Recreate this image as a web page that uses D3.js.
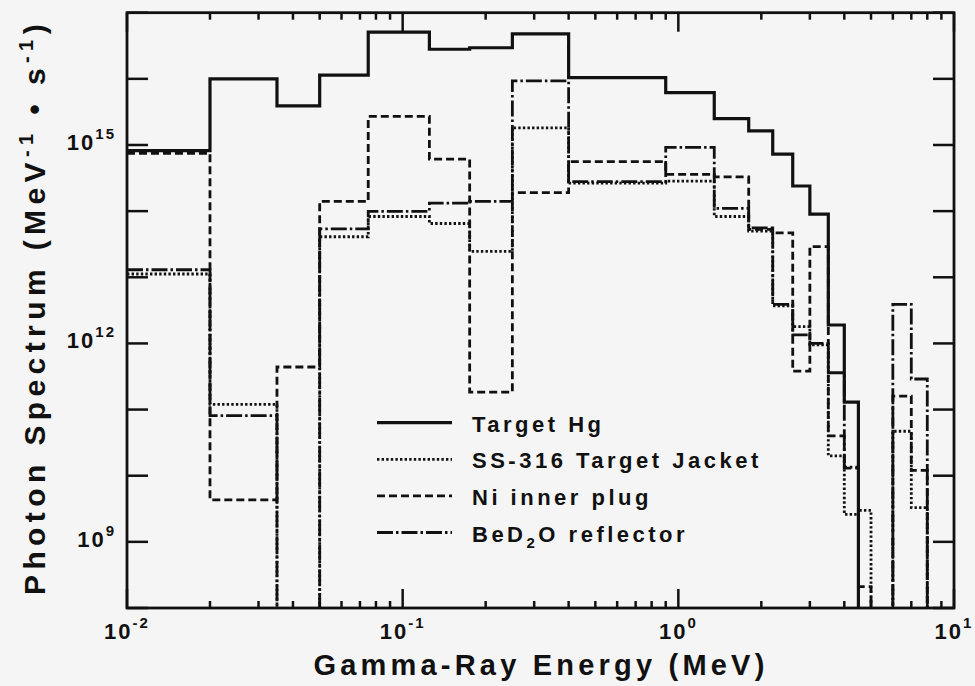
<!DOCTYPE html>
<html>
<head>
<meta charset="utf-8">
<script src="https://cdn.jsdelivr.net/npm/d3@7"></script>
<style>
body { margin: 0; background: #f5f5f5; }
text { font-family: "Liberation Sans", Arial, sans-serif; font-weight: bold; fill: #111; }
</style>
</head>
<body>
<div id="chart"></div>
<script>
// group boundaries (MeV)
var edges = [0.01, 0.02, 0.035, 0.05, 0.075, 0.125, 0.175, 0.25, 0.4, 0.9, 1.35, 1.8,
             2.2, 2.6, 3.0, 3.5, 4.0, 4.5, 5.0, 6.0, 7.0, 8.0, 10.0];

// photon spectrum per group, 0 = off scale
var targetHg = [8.2e14, 1.0e16, 3.9e15, 1.14e16, 5.1e16, 2.8e16, 2.95e16, 4.8e16, 1.04e16, 6.2e15, 2.5e15,
                1.64e15, 7.3e14, 2.4e14, 9.0e13, 1.9e12, 1.3e11, 0, 0, 0, 0, 0];
var ssJacket = [1.12e13, 1.2e11, 0, 4.1e13, 8.3e13, 6.5e13, 2.46e13, 1.82e15, 2.65e14, 2.85e14, 8.3e13,
                5.0e13, 3.7e12, 1.8e12, 9.5e11, 2.0e10, 2.6e9, 3.0e9, 0, 4.7e10, 3.3e9, 0];
var niPlug   = [7.5e14, 4.3e9, 4.4e11, 1.4e14, 2.7e15, 6.1e14, 1.84e11, 1.9e14, 5.6e14, 3.6e14, 3.3e14,
                5.3e13, 4.7e13, 3.8e11, 2.9e13, 4.0e10, 1.3e10, 2.1e8, 0, 1.6e11, 1.2e10, 0];
var bed2o    = [1.3e13, 8.1e10, 0, 5.4e13, 9.9e13, 1.32e14, 1.4e14, 9.3e15, 2.8e14, 9.2e14, 1.1e14,
                5.6e13, 3.9e12, 1.35e12, 1.0e12, 3.6e11, 1.35e10, 0, 0, 3.9e12, 2.9e11, 0];

var xMajor = [0.01, 0.1, 1, 10];
var xExp = ["-2", "-1", "0", "1"];
var yTicks = [1e8, 1e9, 1e10, 1e11, 1e12, 1e13, 1e14, 1e15, 1e16, 1e17];
var yLabels = [1e9, 1e12, 1e15];
var yExp = ["9", "12", "15"];

var legendNames = ["Target Hg", "SS-316 Target Jacket", "Ni inner plug", "BeD2O reflector"];

var W = 975, H = 686;
var pL = 127, pR = 954, pT = 12.7, pB = 608;

var svg = d3.select("#chart").append("svg")
    .attr("width", W)
    .attr("height", H);

var x = d3.scaleLog().domain([0.01, 10]).range([pL, pR]);
var y = d3.scaleLog().domain([1e8, 1e17]).range([pB, pT]);

svg.append("clipPath").attr("id", "plotclip")
    .append("rect")
    .attr("x", pL).attr("y", pT)
    .attr("width", pR - pL).attr("height", pB - pT);

// ticks, pointing inward on all four sides
var tk = svg.append("g").attr("stroke", "#111").attr("stroke-width", 2.5);
var xMinor = x.ticks().filter(function (d) { return xMajor.indexOf(d) < 0; });
xMinor.forEach(function (d) {
    tk.append("line").attr("x1", x(d)).attr("x2", x(d)).attr("y1", pB).attr("y2", pB - 7);
    tk.append("line").attr("x1", x(d)).attr("x2", x(d)).attr("y1", pT).attr("y2", pT + 7);
});
xMajor.forEach(function (d) {
    tk.append("line").attr("x1", x(d)).attr("x2", x(d)).attr("y1", pB).attr("y2", pB - 19);
    tk.append("line").attr("x1", x(d)).attr("x2", x(d)).attr("y1", pT).attr("y2", pT + 19);
});
yTicks.forEach(function (d) {
    tk.append("line").attr("x1", pL).attr("x2", pL + 21).attr("y1", y(d)).attr("y2", y(d));
    tk.append("line").attr("x1", pR).attr("x2", pR - 21).attr("y1", y(d)).attr("y2", y(d));
});

// spectra as step lines
function steps(vals) {
    var p = vals.map(function (v, i) { return [edges[i], v]; });
    p.push([edges[edges.length - 1], vals[vals.length - 1]]);
    return p;
}
var line = d3.line()
    .curve(d3.curveStepAfter)
    .x(function (d) { return x(d[0]); })
    .y(function (d) { return y(d[1] > 0 ? d[1] : 1e7); });

var series = [
    { vals: bed2o, dash: "16,3,2.5,3", w: 2.8 },
    { vals: niPlug, dash: "8,4", w: 2.8 },
    { vals: ssJacket, dash: "2.4,2.2", w: 2.8 },
    { vals: targetHg, dash: null, w: 3.2 }
];
var plot = svg.append("g").attr("clip-path", "url(#plotclip)");
series.forEach(function (s) {
    plot.append("path")
        .datum(steps(s.vals))
        .attr("d", line)
        .attr("fill", "none")
        .attr("stroke", "#111")
        .attr("stroke-width", s.w)
        .attr("stroke-dasharray", s.dash);
});

// frame
svg.append("rect")
    .attr("x", pL).attr("y", pT)
    .attr("width", pR - pL).attr("height", pB - pT)
    .attr("fill", "none").attr("stroke", "#111").attr("stroke-width", 2.8);

// x tick labels
xMajor.forEach(function (d, i) {
    var t = svg.append("text")
        .attr("x", x(d)).attr("y", 639)
        .attr("text-anchor", "middle")
        .style("font-size", "22px")
        .style("letter-spacing", "2px");
    t.append("tspan").text("10");
    t.append("tspan").attr("dy", -11).style("font-size", "15px").text(xExp[i]);
});

// y tick labels
yLabels.forEach(function (d, i) {
    var t = svg.append("text")
        .attr("x", 116).attr("y", y(d) + 5)
        .attr("text-anchor", "end")
        .style("font-size", "22px")
        .style("letter-spacing", "2px");
    t.append("tspan").text("10");
    t.append("tspan").attr("dy", -11).style("font-size", "15px").text(yExp[i]);
});

// axis titles
svg.append("text")
    .attr("x", 541).attr("y", 675)
    .attr("text-anchor", "middle")
    .style("font-size", "29px")
    .style("letter-spacing", "4.2px")
    .text("Gamma-Ray Energy (MeV)");

var yt = svg.append("text")
    .attr("transform", "translate(45,307) rotate(-90)")
    .attr("text-anchor", "middle")
    .style("font-size", "30px")
    .style("letter-spacing", "5.4px");
yt.append("tspan").text("Photon Spectrum (MeV");
yt.append("tspan").attr("dy", -12).style("font-size", "20px").text("-1");
yt.append("tspan").attr("dy", 12).text(" \u2022 s");
yt.append("tspan").attr("dy", -12).style("font-size", "20px").text("-1");
yt.append("tspan").attr("dy", 12).text(")");

// legend
var lg = svg.append("g");
series.slice().reverse().forEach(function (s, i) {
    var ly = 422.7 + i * 36.6;
    lg.append("line")
        .attr("x1", 377).attr("x2", 452)
        .attr("y1", ly).attr("y2", ly)
        .attr("stroke", "#111")
        .attr("stroke-width", s.w)
        .attr("stroke-dasharray", s.dash);
    var t = lg.append("text")
        .attr("x", 472).attr("y", ly + 9)
        .style("font-size", "22px")
        .style("letter-spacing", "3.5px");
    if (legendNames[i] === "BeD2O reflector") {
        t.append("tspan").text("BeD");
        t.append("tspan").attr("dy", 6).style("font-size", "15px").text("2");
        t.append("tspan").attr("dy", -6).text("O reflector");
    } else {
        t.text(legendNames[i]);
    }
});
</script>
</body>
</html>
